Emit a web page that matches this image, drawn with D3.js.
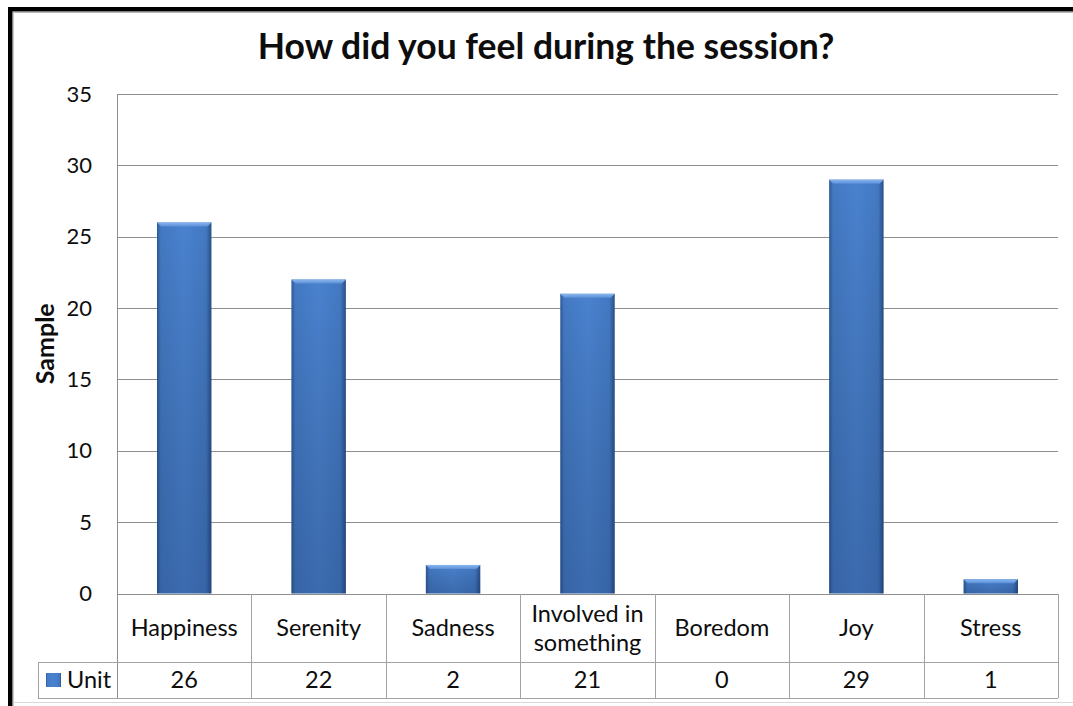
<!DOCTYPE html>
<html>
<head>
<meta charset="utf-8">
<script src="https://cdn.jsdelivr.net/npm/d3@7"></script>
<style>
  html, body { margin: 0; padding: 0; background: #fff; }
  svg { display: block; font-family: Lato, "Open Sans", sans-serif; }
</style>
</head>
<body>
<svg id="chart" width="1073" height="706"></svg>
<script>
// Survey answers: how participants felt during the session
const categories = ["Happiness", "Serenity", "Sadness", "Involved in\nsomething", "Boredom", "Joy", "Stress"];
const unitValues = [26, 22, 2, 21, 0, 29, 1];
const seriesName = "Unit";
const yTicks = [0, 5, 10, 15, 20, 25, 30, 35];
const titleText = "How did you feel during the session?";
const yTitle = "Sample";

const svg = d3.select("#chart");
const W = 1073, H = 706;
const plot = { left: 117, right: 1058, top: 94, bottom: 593.5 };
const table = { left: 38, row1: 662, row2: 698 };
const gridColor = "#8e8e8e";
const tableColor = "#a3a3a3";
const textColor = "#0d0d0d";

// Frame: heavy black edge on top/left with a thin grey inner line
svg.append("rect").attr("x", 0).attr("y", 0).attr("width", W).attr("height", H).attr("fill", "#fff");
svg.append("rect").attr("x", 8).attr("y", 7).attr("width", W).attr("height", 4.5).attr("fill", "#000");
svg.append("rect").attr("x", 8).attr("y", 7).attr("width", 4.5).attr("height", H).attr("fill", "#000");
svg.append("line").attr("x1", 13).attr("x2", W).attr("y1", 12.5).attr("y2", 12.5).attr("stroke", "#b8b8b8");
svg.append("line").attr("x1", 13.5).attr("x2", 13.5).attr("y1", 12).attr("y2", H).attr("stroke", "#c8c8c8");
svg.append("line").attr("x1", 13).attr("x2", W).attr("y1", 702.5).attr("y2", 702.5).attr("stroke", "#d8d8d8");

const x = d3.scaleBand().domain(categories).range([plot.left, plot.right]).paddingInner(0).paddingOuter(0);
const y = d3.scaleLinear().domain([0, 35]).range([plot.bottom, plot.top]);

// Gradients for the bevelled bars
const defs = svg.append("defs");
const hg = defs.append("linearGradient").attr("id", "barH").attr("x1", 0).attr("x2", 1).attr("y1", 0).attr("y2", 0);
[[0, "#2c5995"], [0.07, "#4379c2"], [0.5, "#4a82cf"], [0.9, "#4379c2"], [1, "#284f88"]]
  .forEach(([o, c]) => hg.append("stop").attr("offset", o).attr("stop-color", c));
const vg = defs.append("linearGradient").attr("id", "barV").attr("x1", 0).attr("x2", 0).attr("y1", 0).attr("y2", 1);
[[0, "#000", 0], [1, "#0a1a40", 0.22]]
  .forEach(([o, c, a]) => vg.append("stop").attr("offset", o).attr("stop-color", c).attr("stop-opacity", a));
const tg = defs.append("linearGradient").attr("id", "barTop").attr("x1", 0).attr("x2", 0).attr("y1", 0).attr("y2", 1);
[[0, "#8ab6ee"], [1, "#5a8fd8"]]
  .forEach(([o, c]) => tg.append("stop").attr("offset", o).attr("stop-color", c));

// Gridlines
svg.append("g").selectAll("line").data(yTicks).join("line")
  .attr("x1", plot.left).attr("x2", plot.right)
  .attr("y1", d => Math.round(y(d)) + 0.5).attr("y2", d => Math.round(y(d)) + 0.5)
  .attr("stroke", gridColor).attr("stroke-width", 1);

// Y axis labels
const yAxis = d3.axisLeft(y).tickValues(yTicks).tickSize(0).tickPadding(25);
const yg = svg.append("g").attr("transform", `translate(${plot.left},0)`).call(yAxis);
yg.select(".domain").remove();
yg.selectAll("text").attr("font-size", 22).attr("fill", textColor).attr("font-family", "Lato, sans-serif");

// Bars
const barW = x.bandwidth() * 0.405;
const bars = svg.append("g").selectAll("g").data(categories.map((c, i) => ({ c, v: unitValues[i] })))
  .join("g").filter(d => d.v > 0);
bars.append("rect")
  .attr("x", d => x(d.c) + (x.bandwidth() - barW) / 2)
  .attr("y", d => y(d.v))
  .attr("width", barW)
  .attr("height", d => y(0) - y(d.v))
  .attr("fill", "url(#barH)");
bars.append("rect")
  .attr("x", d => x(d.c) + (x.bandwidth() - barW) / 2)
  .attr("y", d => y(d.v))
  .attr("width", barW)
  .attr("height", d => y(0) - y(d.v))
  .attr("fill", "url(#barV)");
bars.append("path")
  .attr("d", d => {
    const x0 = x(d.c) + (x.bandwidth() - barW) / 2, x1 = x0 + barW, t = y(d.v), b = 4;
    return `M${x0},${t}L${x1},${t}L${x1 - b},${t + b}L${x0 + b},${t + b}Z`;
  })
  .attr("fill", "url(#barTop)");

// Y axis line and data table grid
const tg2 = svg.append("g").attr("stroke", tableColor).attr("stroke-width", 1).attr("fill", "none");
tg2.append("line").attr("x1", plot.left + 0.5).attr("x2", plot.left + 0.5).attr("y1", plot.top).attr("y2", table.row2).attr("stroke", gridColor);
tg2.append("line").attr("x1", table.left).attr("x2", plot.right).attr("y1", table.row1 + 0.5).attr("y2", table.row1 + 0.5);
tg2.append("line").attr("x1", table.left).attr("x2", plot.right).attr("y1", table.row2 + 0.5).attr("y2", table.row2 + 0.5);
tg2.append("line").attr("x1", table.left + 0.5).attr("x2", table.left + 0.5).attr("y1", table.row1).attr("y2", table.row2);
tg2.selectAll("line.col").data(categories).join("line").attr("class", "col")
  .attr("x1", d => Math.round(x(d) + x.bandwidth()) + 0.5)
  .attr("x2", d => Math.round(x(d) + x.bandwidth()) + 0.5)
  .attr("y1", Math.round(y(0))).attr("y2", table.row2);

// Category labels
const catRowMid = (Math.round(y(0)) + table.row1) / 2;
const catText = svg.append("g").selectAll("text").data(categories).join("text")
  .attr("x", d => x(d) + x.bandwidth() / 2)
  .attr("text-anchor", "middle")
  .attr("font-size", 23.5).attr("fill", textColor);
catText.each(function (d) {
  const lines = d.split("\n");
  const lh = 29;
  const sel = d3.select(this);
  lines.forEach((ln, i) => {
    sel.append("tspan")
      .attr("x", x(d) + x.bandwidth() / 2)
      .attr("y", catRowMid + (i - (lines.length - 1) / 2) * lh)
      .attr("dy", "0.36em")
      .text(ln);
  });
});

// Value row
const valMid = (table.row1 + table.row2) / 2;
svg.append("g").selectAll("text").data(unitValues).join("text")
  .attr("x", (d, i) => x(categories[i]) + x.bandwidth() / 2)
  .attr("y", valMid).attr("dy", "0.36em")
  .attr("text-anchor", "middle").attr("font-size", 23.5).attr("fill", textColor)
  .text(d => d);

// Legend key in the table
svg.append("rect").attr("x", 46).attr("y", 673).attr("width", 15).attr("height", 14).attr("fill", "url(#barH)");
svg.append("text").attr("x", 67).attr("y", valMid).attr("dy", "0.36em")
  .attr("font-size", 23.5).attr("fill", textColor).text(seriesName);

// Title
svg.append("text").attr("x", 546).attr("y", 59).attr("text-anchor", "middle")
  .attr("font-size", 35.5).attr("font-weight", "bold").attr("fill", textColor).text(titleText);

// Y axis title
svg.append("text").attr("transform", `translate(54,${(plot.top + plot.bottom) / 2}) rotate(-90)`)
  .attr("text-anchor", "middle").attr("font-size", 25).attr("font-weight", "bold").attr("fill", textColor)
  .text(yTitle);
</script>
</body>
</html>
